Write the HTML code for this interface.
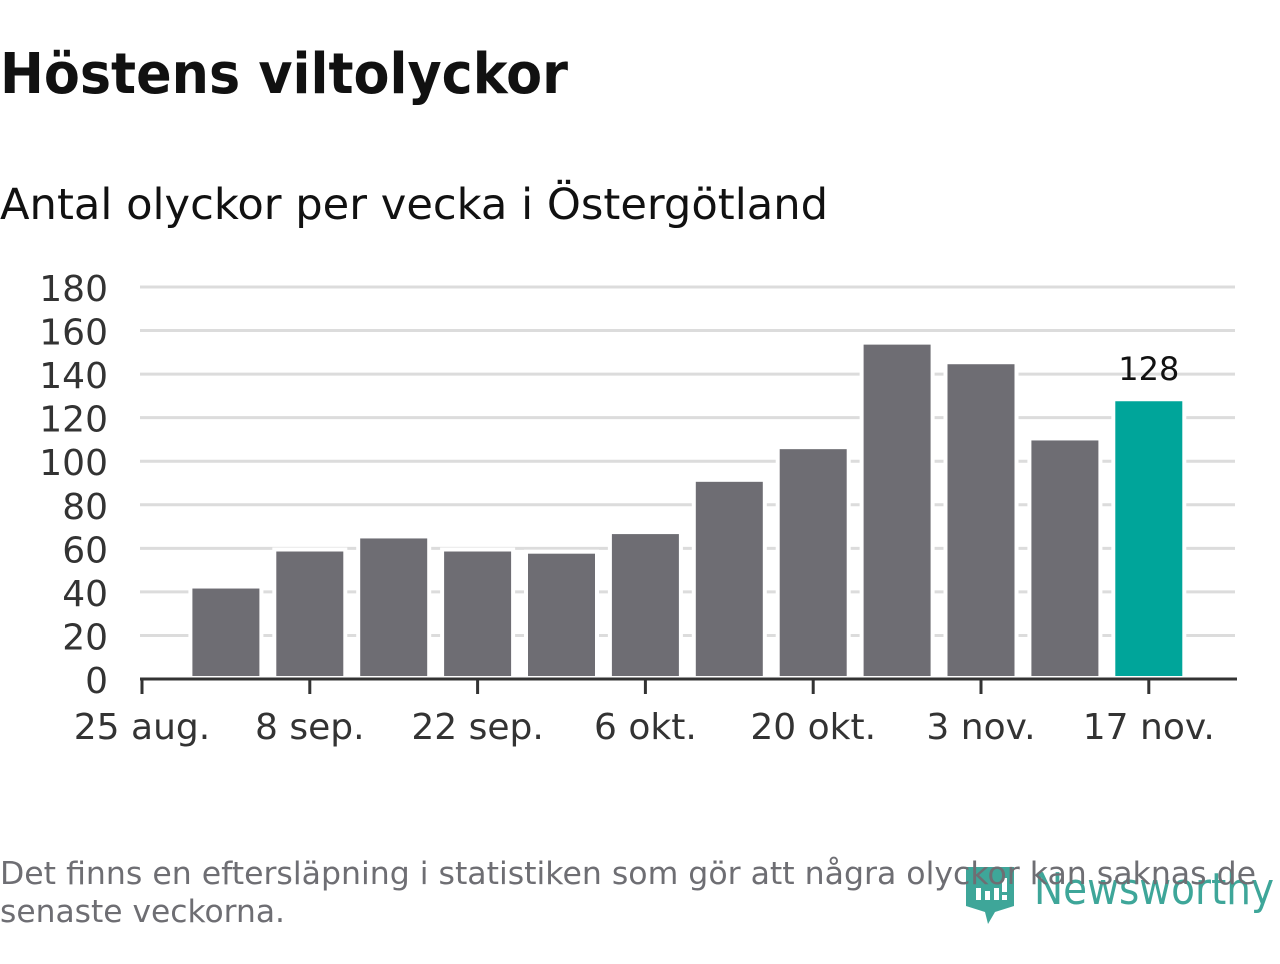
<!DOCTYPE html>
<html><head><meta charset="utf-8"><style>
body{margin:0;width:1280px;height:960px;background:#fff;overflow:hidden;font-family:"DejaVu Sans","Liberation Sans",sans-serif}
</style></head><body>
<svg id="c" width="1280" height="960" xmlns="http://www.w3.org/2000/svg">
<text x="0" y="93" font-size="56" font-weight="bold" fill="#111" textLength="568" lengthAdjust="spacingAndGlyphs">Höstens viltolyckor</text>
<text x="0" y="219" font-size="43" fill="#111" textLength="828" lengthAdjust="spacingAndGlyphs">Antal olyckor per vecka i Östergötland</text>
<g id="grid"></g><g id="bars"></g><g id="axes"></g>
<g opacity="0.9">
<path d="M966 867 H1014 V906 L995 912 L988 924 L985 912 L966 906 Z" fill="#2a9d8f"/>
<rect x="976" y="888" width="5" height="12" fill="#fff"/><rect x="985" y="891" width="5" height="9" fill="#fff"/><rect x="994" y="888" width="5" height="12" fill="#fff"/><rect x="1002" y="878" width="5" height="14" fill="#fff"/><rect x="1002" y="895" width="5" height="5" fill="#fff"/>
<text x="1034" y="904" font-size="44" fill="#2a9d8f" textLength="240" lengthAdjust="spacingAndGlyphs">Newsworthy</text>
</g>
<text x="0" y="884" font-size="31" fill="#6e6e73" textLength="1256" lengthAdjust="spacingAndGlyphs">Det finns en eftersläpning i statistiken som gör att några olyckor kan saknas de</text>
<text x="0" y="922" font-size="31" fill="#6e6e73" textLength="285" lengthAdjust="spacingAndGlyphs">senaste veckorna.</text>
</svg>
<script>
const weeks=["25 aug.","1 sep.","8 sep.","15 sep.","22 sep.","29 sep.","6 okt.","13 okt.","20 okt.","27 okt.","3 nov.","10 nov.","17 nov."];
const values=[42,59,65,59,58,67,91,106,154,145,110,128];
const yTicks=[0,20,40,60,80,100,120,140,160,180];
const NS="http://www.w3.org/2000/svg";
const y=v=>679-v*(392/180);
const x=i=>142+83.9*i;
function mk(t,a,p){const e=document.createElementNS(NS,t);for(const k in a)e.setAttribute(k,a[k]);p.appendChild(e);return e;}
const G=document.getElementById('grid'),B=document.getElementById('bars'),A=document.getElementById('axes');
yTicks.forEach(v=>{
 if(v>0){const l=mk('line',{x1:140,x2:1235,y1:y(v),y2:y(v),stroke:'#dcdcdc','stroke-width':3},G);
 
 }
 const t=mk('text',{x:108,y:y(v)+14,'font-size':36,fill:'#333','text-anchor':'end'},A);t.textContent=v;
 
 
});
values.forEach((v,i)=>{
 const cx=x(i+1),last=i===values.length-1;
 const r=mk('rect',{x:cx-35.5,y:y(v)-1,width:71,height:y(0)-y(v),fill:last?'#00a59a':'#6e6d73',stroke:'#fff','stroke-width':4},B);
 
 
 if(last){const t=mk('text',{x:cx,y:y(v)-20,'font-size':32,fill:'#111','text-anchor':'middle'},B);t.textContent=v;
 
 }
});
const ax=mk('line',{x1:140,x2:1237,y1:679,y2:679,stroke:'#333','stroke-width':3},A);


weeks.forEach((w,i)=>{if(i%2)return;
 const tk=mk('line',{x1:x(i),x2:x(i),y1:679,y2:694,stroke:'#333','stroke-width':3},A);
 
 
 const t=mk('text',{x:x(i),y:739,'font-size':36,fill:'#333','text-anchor':'middle'},A);t.textContent=w;
 
 
});
</script>
</body></html>
